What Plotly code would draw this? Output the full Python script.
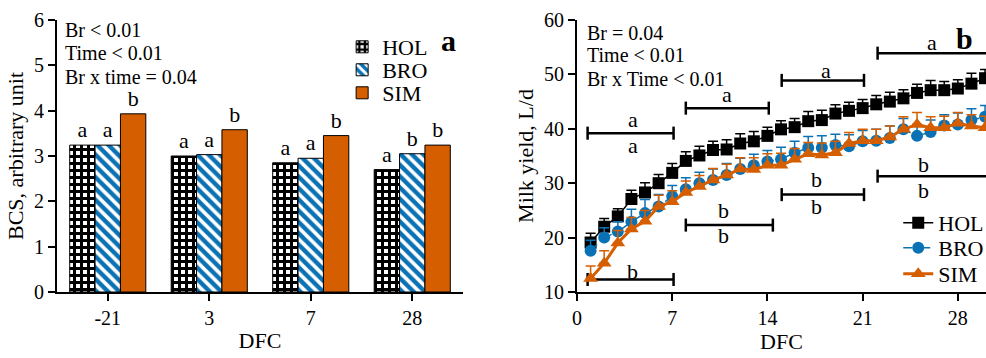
import plotly.graph_objects as go

SERIF = "Liberation Serif, Times New Roman, serif"
BLACK = "#000000"
BLUE = "#0A72B4"
ORANGE = "#D55E00"
W, H = 986, 358

# ---------------- Panel a: body condition score ----------------
bcs_days = ["-21", "3", "7", "28"]
bcs_hol = [3.24, 3.00, 2.85, 2.70]
bcs_bro = [3.24, 3.03, 2.95, 3.05]
bcs_sim = [3.93, 3.58, 3.45, 3.24]
bcs_letters_hol = ["a", "a", "a", "a"]
bcs_letters_bro = ["a", "a", "a", "b"]
bcs_letters_sim = ["b", "b", "b", "b"]
bcs_ticks = [0, 1, 2, 3, 4, 5, 6]

# ---------------- Panel b: daily milk yield ----------------
dfc = [1, 2, 3, 4, 5, 6, 7, 8, 9, 10, 11, 12, 13, 14, 15,
       16, 17, 18, 19, 20, 21, 22, 23, 24, 25, 26, 27, 28, 29, 30]
milk_hol = [19.1, 22.0, 23.9, 27.1, 28.3, 30.0, 31.9, 34.1, 35.1, 36.1,
            36.2, 37.3, 37.7, 38.7, 39.9, 40.3, 41.4, 41.6, 42.8, 43.3,
            43.8, 44.5, 45.0, 45.6, 46.6, 47.1, 47.1, 47.4, 48.3, 49.3]
milk_bro = [17.6, 20.0, 21.1, 22.9, 24.5, 25.7, 27.6, 28.9, 30.0, 30.6,
            31.5, 32.6, 33.3, 34.0, 34.4, 35.6, 36.5, 36.5, 37.0, 36.8,
            37.7, 37.8, 38.3, 39.9, 38.7, 39.4, 40.6, 40.8, 41.6, 42.2]
milk_sim = [12.5, 15.3, 19.0, 21.6, 23.0, 25.7, 26.6, 28.3, 29.4, 30.6,
            31.5, 32.6, 32.5, 33.3, 33.3, 34.4, 35.4, 35.2, 35.6, 37.3,
            37.8, 37.8, 38.5, 39.9, 40.8, 40.2, 40.2, 41.0, 40.5, 40.2]
err_hol = [1.7, 1.5, 1.4, 1.6, 1.8, 1.6, 1.7, 1.7, 1.7, 1.6,
           1.8, 1.8, 1.8, 1.6, 1.6, 1.6, 1.8, 1.8, 1.6, 1.6,
           1.6, 1.6, 1.7, 1.6, 1.6, 1.8, 1.6, 1.6, 1.9, 1.6]
err_bro = [1.9, 1.8, 1.8, 2.3, 2.5, 2.2, 2.0, 2.1, 2.0, 2.0,
           2.1, 2.0, 2.0, 2.0, 2.2, 2.1, 2.1, 2.2, 2.0, 2.1,
           2.0, 2.1, 2.2, 2.0, 2.1, 2.2, 2.0, 2.1, 2.1, 2.1]
err_sim = [2.3, 2.3, 2.3, 2.1, 2.0, 2.1, 2.0, 2.1, 2.0, 2.1,
           2.0, 2.1, 2.2, 2.1, 2.2, 2.0, 2.1, 2.2, 2.1, 2.0,
           2.1, 2.1, 2.0, 2.3, 2.2, 2.0, 2.1, 2.0, 2.1, 2.1]
milk_xticks = [0, 7, 14, 21, 28]
milk_yticks = [10, 20, 30, 40, 50, 60]

# weekly comparison brackets and their significance letters
bracket_x0 = [0.78, 8.0, 15.05, 22.1, 0.78, 8.0, 15.05, 22.1]
bracket_x1 = [7.1, 14.1, 21.1, 31.0, 7.1, 14.4, 21.1, 31.0]
bracket_y = [39.2, 43.8, 48.9, 53.9, 12.3, 22.3, 27.9, 31.3]
bracket_cap = 1.2
letter_x = [4.1, 4.1, 11.0, 18.3, 26.1, 4.1, 10.8, 10.8, 17.6, 17.6, 25.5, 25.5]
letter_y = [41.8, 37.0, 46.3, 50.8, 55.8, 13.7, 24.9, 20.3, 30.6, 25.8, 33.4, 28.7]
letter_txt = ["a", "a", "a", "a", "a", "b", "b", "b", "b", "b", "b", "b"]

fig = go.Figure()

bar_line = dict(color=BLACK, width=1)
bar_text = dict(family=SERIF, size=22, color=BLACK)
fig.add_trace(go.Bar(
    x=bcs_days, y=bcs_hol, name="HOL", text=bcs_letters_hol,
    textposition="outside", textfont=bar_text, cliponaxis=False,
    marker=dict(color="white", line=bar_line,
                pattern=dict(shape="+", fgcolor=BLACK, bgcolor="white",
                             fgopacity=1, size=7, solidity=0.6735)),
    xaxis="x", yaxis="y", legend="legend"))
fig.add_trace(go.Bar(
    x=bcs_days, y=bcs_bro, name="BRO", text=bcs_letters_bro,
    textposition="outside", textfont=bar_text, cliponaxis=False,
    marker=dict(color=BLUE, line=bar_line,
                pattern=dict(shape="\\", fgcolor="white", bgcolor=BLUE,
                             fgopacity=1, size=8, solidity=0.45)),
    xaxis="x", yaxis="y", legend="legend2"))
fig.add_trace(go.Bar(
    x=bcs_days, y=bcs_sim, name="SIM", text=bcs_letters_sim,
    textposition="outside", textfont=bar_text, cliponaxis=False,
    marker=dict(color=ORANGE, line=bar_line),
    xaxis="x", yaxis="y", legend="legend3"))

# brackets: a horizontal line with vertical end caps drawn as error bars
for x0, x1, yb in zip(bracket_x0, bracket_x1, bracket_y):
    fig.add_trace(go.Scatter(
        x=[x0, x1], y=[yb, yb], mode="lines",
        line=dict(color=BLACK, width=2.5),
        error_y=dict(type="constant", value=bracket_cap, color=BLACK,
                     thickness=2.5, width=0),
        showlegend=False, hoverinfo="skip", xaxis="x2", yaxis="y2"))

fig.add_trace(go.Scatter(
    x=dfc, y=milk_hol, name="HOL", mode="lines+markers",
    line=dict(color=BLACK, width=1.5),
    marker=dict(symbol="square", size=12, color=BLACK),
    error_y=dict(type="data", array=err_hol, arrayminus=[0] * len(err_hol),
                 symmetric=False, color=BLACK, thickness=1.5, width=5),
    xaxis="x2", yaxis="y2", legend="legend4"))
fig.add_trace(go.Scatter(
    x=dfc, y=milk_bro, name="BRO", mode="lines+markers",
    line=dict(color=BLUE, width=1.5, dash="dash"),
    marker=dict(symbol="circle", size=12, color=BLUE),
    error_y=dict(type="data", array=err_bro, arrayminus=[0] * len(err_bro),
                 symmetric=False, color=BLUE, thickness=1.5, width=5),
    xaxis="x2", yaxis="y2", legend="legend5"))
fig.add_trace(go.Scatter(
    x=dfc, y=milk_sim, name="SIM", mode="lines+markers",
    line=dict(color=ORANGE, width=3),
    marker=dict(symbol="triangle-up", size=13, color=ORANGE),
    error_y=dict(type="data", array=err_sim, arrayminus=[0] * len(err_sim),
                 symmetric=False, color=ORANGE, thickness=1.5, width=5),
    xaxis="x2", yaxis="y2", legend="legend6"))

annotations = []
for lx, ly, lt in zip(letter_x, letter_y, letter_txt):
    annotations.append(dict(x=lx, y=ly, xref="x2", yref="y2", text=lt,
                            showarrow=False, font=dict(family=SERIF, size=22, color=BLACK)))

stat_font = dict(family=SERIF, size=20, color=BLACK)
for txt, yy in [("Br &lt; 0.01", 0.916), ("Time &lt; 0.01", 0.852), ("Br x time = 0.04", 0.785)]:
    annotations.append(dict(x=0.0639, y=yy, xref="paper", yref="paper", text=txt,
                            showarrow=False, xanchor="left", yanchor="middle", font=stat_font))
for txt, yy in [("Br = 0.04", 0.908), ("Time &lt; 0.01", 0.846), ("Br x Time &lt; 0.01", 0.779)]:
    annotations.append(dict(x=0.5933, y=yy, xref="paper", yref="paper", text=txt,
                            showarrow=False, xanchor="left", yanchor="middle", font=stat_font))
annotations.append(dict(x=0.4544, y=0.9385, xref="paper", yref="paper", text="<b>a</b>",
                        showarrow=False, font=dict(family=SERIF, size=30, color=BLACK)))
annotations.append(dict(x=0.9888, y=0.944, xref="paper", yref="paper", text="<b>b</b>",
                        showarrow=False, font=dict(family=SERIF, size=30, color=BLACK)))

axis_common = dict(showline=True, linewidth=2, linecolor=BLACK, ticks="outside",
                   ticklen=7, tickwidth=2, tickcolor=BLACK, showgrid=False,
                   zeroline=False, tickfont=dict(family=SERIF, size=20, color=BLACK))
title_font = dict(family=SERIF, size=22, color=BLACK)


def legend_at(xp, yp):
    return dict(x=xp, y=yp, xanchor="left", yanchor="middle", bgcolor="rgba(0,0,0,0)",
                font=dict(family=SERIF, size=22, color=BLACK), itemwidth=30,
                borderwidth=0)


# subplot frames placed on whole pixels so the fill patterns stay crisp
y_dom = [66 / H, 338 / H]

fig.update_layout(
    width=W, height=H,
    margin=dict(l=0, r=0, t=0, b=0, autoexpand=False),
    paper_bgcolor="white", plot_bgcolor="white",
    barmode="group", bargap=0.25, bargroupgap=0,
    font=dict(family=SERIF, color=BLACK),
    xaxis=dict(axis_common, type="category", domain=[57 / W, 463 / W], anchor="y",
               title=dict(text="DFC", font=title_font, standoff=5)),
    yaxis=dict(axis_common, domain=y_dom, range=[0, 6], tickvals=bcs_ticks,
               anchor="x", title=dict(text="BCS, arbitrary unit", font=title_font, standoff=4)),
    xaxis2=dict(axis_common, domain=[577 / W, 1.0], range=[0, 30.07], tickvals=milk_xticks,
                anchor="y2", title=dict(text="DFC", font=title_font, standoff=5)),
    yaxis2=dict(axis_common, domain=y_dom, range=[10, 60], tickvals=milk_yticks,
                anchor="x2", title=dict(text="Milk yield, L/d", font=title_font, standoff=4)),
    legend=legend_at(0.347, 0.8687),
    legend2=legend_at(0.347, 0.8045),
    legend3=legend_at(0.347, 0.7402),
    legend4=legend_at(0.911, 0.3771),
    legend5=legend_at(0.911, 0.3073),
    legend6=legend_at(0.911, 0.2346),
    annotations=annotations,
)

fig.write_html("out.html")
